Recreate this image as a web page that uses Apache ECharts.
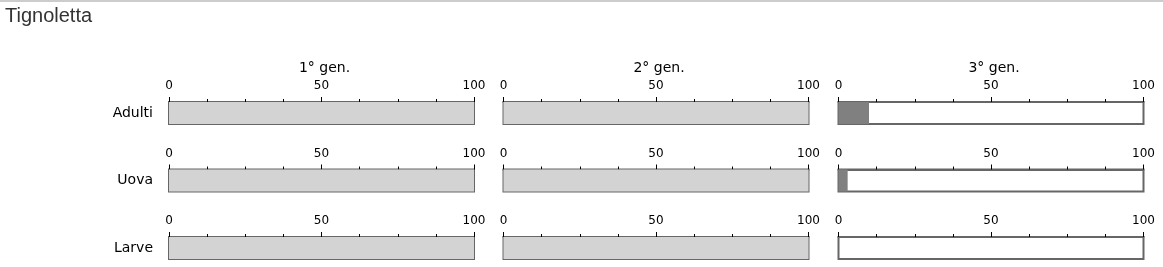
<!DOCTYPE html>
<html><head><meta charset="utf-8">
<script src="https://cdn.jsdelivr.net/npm/echarts@6/dist/echarts.min.js"></script>
<style>html,body{margin:0;padding:0;background:#fff}#c{width:1163px;height:267px;box-sizing:border-box;border-top:2px solid #ccc}</style>
</head><body><div id="c"></div>
<script>
var chartTitle = 'Tignoletta';
var generations = ['1° gen.', '2° gen.', '3° gen.'];
var stages = ['Adulti', 'Uova', 'Larve'];
// percentage values per generation, one per stage
var gen1Values = [100, 100, 100];
var gen2Values = [100, 100, 100];
var gen3Values = [10, 3, 0];
var genValues = [gen1Values, gen2Values, gen3Values];
var tickLabels = ['0', '50', '100'];

var genColors = ['#d3d3d3', '#d3d3d3', '#808080'];
var colLeft = [169, 503.5, 838.5];
var colWidth = 305;
var rowTop = [100, 167.5, 235];
var rowHeight = 22;
var font = 'DejaVu Sans';

var grids = [], xAxes = [], yAxes = [], series = [], titles = [];
titles.push({text: chartTitle, left: 0, top: -1,
  textStyle: {fontFamily: 'Liberation Sans', fontSize: 20, fontWeight: 'normal', color: '#333'}});
generations.forEach(function (g, c) {
  titles.push({text: g, left: colLeft[c] + colWidth / 2 - 2, top: 54, textAlign: 'center',
    textStyle: {fontFamily: font, fontSize: 14, fontWeight: 'normal', color: '#000'}});
});
var idx = 0;
for (var r = 0; r < stages.length; r++) {
  for (var c = 0; c < generations.length; c++) {
    grids.push({left: colLeft[c], top: rowTop[r], width: colWidth, height: rowHeight,
      show: true, backgroundColor: '#fff', borderColor: '#666', borderWidth: 2});
    xAxes.push({gridIndex: idx, type: 'value', position: 'top', min: 0, max: 100, interval: 50,
      axisLine: {show: true, lineStyle: {color: '#666', width: 2}},
      axisTick: {show: true, length: 5, lineStyle: {color: '#000', width: 1}},
      minorTick: {show: true, splitNumber: 4, length: 3, lineStyle: {color: '#000', width: 1}},
      splitLine: {show: false},
      axisLabel: {show: true, margin: 10, fontFamily: font, fontSize: 12, color: '#000',
        formatter: function (v) { return tickLabels[Math.round(v / 50)]; }}});
    yAxes.push({gridIndex: idx, type: 'category', data: [stages[r]],
      axisLine: {show: false}, axisTick: {show: false},
      axisLabel: {show: c === 0, margin: 16, fontFamily: font, fontSize: 14, color: '#000'}});
    series.push({type: 'bar', xAxisIndex: idx, yAxisIndex: idx, data: [genValues[c][r]],
      barWidth: '100%', itemStyle: {color: genColors[c]}, silent: true, animation: false});
    idx++;
  }
}
var chart = echarts.init(document.getElementById('c'));
chart.setOption({animation: false, title: titles, grid: grids, xAxis: xAxes, yAxis: yAxes, series: series});
</script></body></html>
